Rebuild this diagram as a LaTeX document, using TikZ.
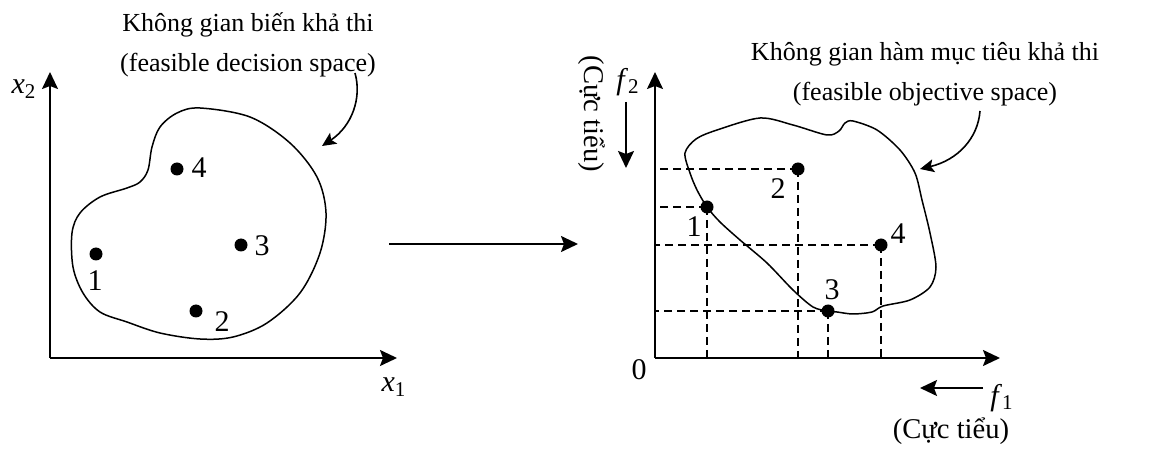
\documentclass[tikz,border=0pt]{standalone}
\usepackage{fontspec}
\setmainfont{Liberation Serif}
\usetikzlibrary{arrows.meta,calc}

\begin{document}
\begin{tikzpicture}[x=0.5pt, y=-0.5pt,
  every node/.style={font=\fontsize{13}{20}\selectfont},
  lab/.style={font=\fontsize{15}{18}\selectfont},
  minlab/.style={font=\fontsize{14.3}{18}\selectfont},
  axis/.style={line width=0.9pt, -{Stealth[length=8.5pt,width=8pt,inset=1.5pt]}},
  note/.style={line width=0.8pt, -{Stealth[length=7pt,width=6.5pt,inset=1.5pt]}},
  blob/.style={line width=0.75pt},
  proj/.style={line width=0.7pt, dash pattern=on 4pt off 2.5pt},
  dot/.style={circle, fill, inner sep=0pt, minimum size=6.5pt}]
  \useasboundingbox (0,0) rectangle (1152,454);

  % Left half: decision space
  \coordinate (lo) at (50,358);
  \coordinate (ly) at (50,72);
  \coordinate (lx) at (397,358);
  \draw[axis] (lo) -- (ly);
  \draw[axis] (lo) -- (lx);
  \node[lab] (x2) at (24,89) {\textit{x}\textsubscript{2}};
  \node[lab] (x1) at (394,387) {\textit{x}\textsubscript{1}};

  \draw[blob] plot[smooth cycle, tension=0.55] coordinates {
    (200,108) (250,117) (290,143) (317,177) (326,213) (320,253) (300,293)
    (267,323) (233,337) (200,339) (160,333) (127,322) (100,312) (83,293)
    (73,267) (72,233) (80,213) (100,197) (127,188) (140,182) (148,170)
    (152,147) (160,127) (177,113)};

  \node[dot] (d1) at (96,254) {};
  \node[dot] (d2) at (196,311) {};
  \node[dot] (d3) at (241,245) {};
  \node[dot] (d4) at (177,169) {};
  \node[lab] (n1) at (95,281) {1};
  \node[lab] (n2) at (222,322) {2};
  \node[lab] (n3) at (262,246) {3};
  \node[lab] (n4) at (199,168) {4};

  \node[align=center] (lcap) at (248,45) {Không gian biến khả thi\\(feasible decision space)};
  \coordinate (lfrom) at (355,73);
  \coordinate (lto) at (322,146);
  \draw[note] (lfrom) .. controls (362,98) and (352,126) .. (lto);

  % mapping arrow
  \coordinate (ma) at (389,244);
  \coordinate (mb) at (578,244);
  \draw[axis] (ma) -- (mb);

  % Right half: objective space
  \coordinate (ro) at (655,358);
  \coordinate (ry) at (655,72);
  \coordinate (rx) at (1000,358);
  \draw[axis] (ro) -- (ry);
  \draw[axis] (ro) -- (rx);
  \node[lab] (zero) at (639,370) {0};
  \node[lab] (f2) at (628,82) {\textit{f}\textsubscript{2}};
  \node[lab] (f1) at (1002,398) {\textit{f}\textsubscript{1}};

  \coordinate (f2a) at (626,102);
  \coordinate (f2b) at (626,168);
  \draw[axis] (f2a) -- (f2b);
  \node[minlab, rotate=-90] (f2min) at (592,114) {(Cực tiểu)};
  \coordinate (f1a) at (983,388);
  \coordinate (f1b) at (920,388);
  \draw[axis] (f1a) -- (f1b);
  \node[minlab] (f1min) at (951,431) {(Cực tiểu)};

  \draw[blob] plot[smooth cycle, tension=0.5] coordinates {
    (685,153) (696,139) (717,130) (760,118) (793,125) (827,135) (839,131)
    (845,123) (853,121) (877,130) (900,150) (915,173) (922,200) (930,233)
    (936,267) (930,287) (910,300) (883,306) (872,312) (853,314) (837,312)
    (828,311) (813,307) (793,290) (767,263) (740,240) (720,222) (707,207)
    (697,190) (690,173)};

  \node[dot] (p1) at (707,207) {};
  \node[dot] (p2) at (798,169) {};
  \node[dot] (p3) at (828,311) {};
  \node[dot] (p4) at (881,245) {};
  \node[lab] (m1) at (694,227) {1};
  \node[lab] (m2) at (778,189) {2};
  \node[lab] (m3) at (832,290) {3};
  \node[lab] (m4) at (898,234) {4};

  % projections on the axes
  \foreach \p in {p1,p2,p3,p4} {
    \draw[proj] (\p.center) -- (\p.center -| ro);
    \draw[proj] (\p.center) -- (\p.center |- ro);
  }

  \node[align=center] (rcap) at (925,74) {Không gian hàm mục tiêu khả thi\\(feasible objective space)};
  \coordinate (rfrom) at (980,111);
  \coordinate (rto) at (920,169);
  \draw[note] (rfrom) .. controls (978,138) and (958,160) .. (rto);
\end{tikzpicture}
\end{document}
